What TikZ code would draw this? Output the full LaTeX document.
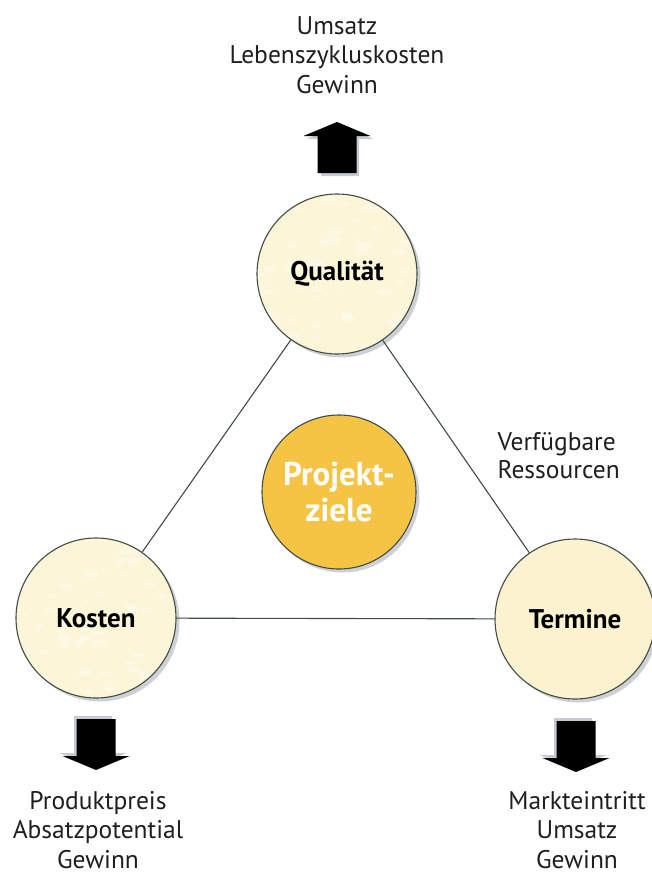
\documentclass[tikz,border=0pt]{standalone}
\usepackage{fontspec}
\setmainfont{PT Sans}
\usetikzlibrary{shadows}
\definecolor{cream}{HTML}{FCF5D8}
\definecolor{creamdeep}{HTML}{FCF2CF}
\definecolor{gold}{HTML}{F5C444}
\definecolor{rim}{HTML}{404C44}
\definecolor{shade}{HTML}{B9BEC6}
\pgfmathsetseed{4711}
\tikzset{
  goal/.style={circle, draw=rim, line width=1.1pt, minimum size=160pt,
    inner sep=0pt, font=\fontsize{27}{30}\selectfont\bfseries,
    drop shadow={shadow xshift=3.5pt, shadow yshift=-3.5pt, fill=shade, opacity=0.7}},
  mottled/.style={path picture={
    \foreach \k in {1,...,70}{
      \pgfmathsetmacro{\px}{rand*75}
      \pgfmathsetmacro{\py}{rand*75}
      \pgfmathsetmacro{\pr}{2+6*rnd}
      \pgfmathsetmacro{\pa}{rand*90}
      \fill[white, opacity=0.3, rotate around={\pa:([shift={(\px,\py)}]path picture bounding box.center)}]
        ([shift={(\px,\py)}]path picture bounding box.center) circle[x radius=\pr pt, y radius=0.5*\pr pt];
    }}},
  link/.style={draw=rim, line width=1.1pt},
  caption/.style={align=center, font=\fontsize{25.5}{29.5}\selectfont, text=black!88},
  arrowfill/.style={fill=black},
  arrowshadow/.style={fill=shade, opacity=0.8},
  pics/blockarrow/.style={code={
    % upward block arrow, tip at origin
    \path[arrowshadow] (3,3) -- (36.5,17) -- (22,17) -- (22,54) -- (-16,54) -- (-16,17) -- (-30.5,17) -- cycle;
    \path[arrowfill] (0,0) -- (33.5,14) -- (19.5,14) -- (19.5,51) -- (-19.5,51) -- (-19.5,14) -- (-33.5,14) -- cycle;
  }}
}
\begin{document}
\begin{tikzpicture}[x=1pt,y=-1pt]
  \useasboundingbox (0,0) rectangle (651,875);
  \fill[white] (0,0) rectangle (651,875);

  % the three goals and the centre
  \node[goal, fill=cream, mottled] (qual) at (337,274) {Qualität};
  \node[goal, fill=cream, mottled] (kost) at (96,618) {Kosten};
  \node[goal, fill=creamdeep] (term) at (575,619) {Termine};
  \node[goal, fill=gold, minimum size=154pt, text=white,
        font=\fontsize{33}{36}\selectfont\bfseries, align=center] (ziel) at (339,492) {Projekt-\\ziele};

  % triangle
  \draw[link] (qual) -- (kost);
  \draw[link] (qual) -- (term);
  \draw[link] (kost) -- (term);

  % block arrows
  \pic at (337,122) {blockarrow};
  \pic[rotate=180] at (96,770) {blockarrow};
  \pic[rotate=180] at (576,772) {blockarrow};

  % captions
  \node[caption] (topcap) at (337,55) {Umsatz\\Lebenszykluskosten\\Gewinn};
  \node[caption] (leftcap) at (98,830) {Produktpreis\\Absatzpotential\\Gewinn};
  \node[caption] (rightcap) at (577,830) {Markteintritt\\Umsatz\\Gewinn};
  \node[caption, align=left, anchor=west, font=\fontsize{25.5}{28}\selectfont] (res) at (494,456) {Verfügbare\\Ressourcen};
\end{tikzpicture}
\end{document}
